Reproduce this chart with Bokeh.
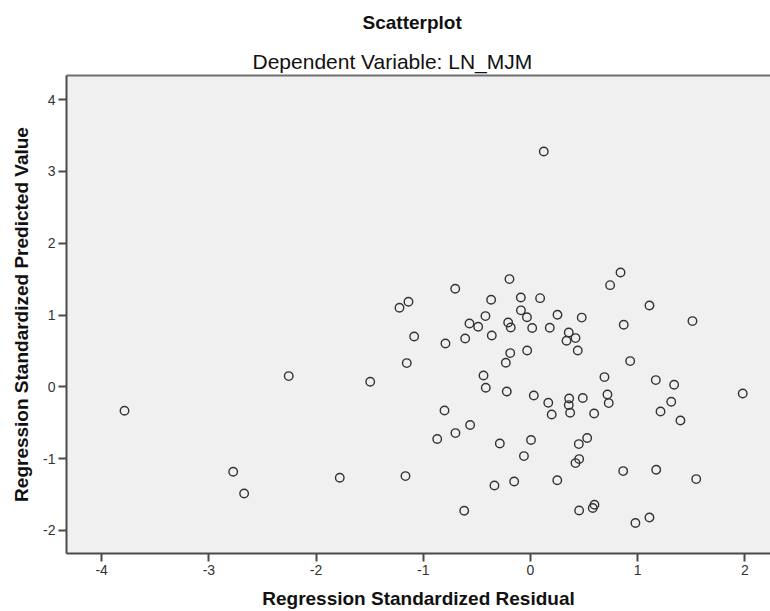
from bokeh.plotting import figure
from bokeh.models import Range1d, FixedTicker, LinearAxis, Title
from bokeh.embed import file_html
from bokeh.resources import INLINE

# Regression standardized residual (x) and standardized predicted value (y)
residual = [0.124, -0.196, -0.702, -1.138, -1.222, -0.367, -0.090, 0.090, -0.089, -0.033,
            -0.420, 0.252, 0.840, 0.743, 1.110, 0.478, -0.569, -0.488, -0.208, -0.184,
            0.016, 0.180, -1.085, -0.793, -0.609, -0.361, -0.189, -0.031, -0.230, -1.154,
            -1.495, -0.438, -0.417, -0.221, 0.031, 0.166, 0.198, -0.802, -0.563, -0.700,
            -0.870, -0.286, 0.005, -0.061, -1.779, -1.166, -0.336, -0.152, 0.250, -0.618,
            0.357, 0.336, 0.420, 0.441, 0.870, 1.511, 0.930, 0.690, 1.169, 1.340,
            1.980, 0.361, 0.357, 0.370, 0.488, 0.594, 0.718, 0.730, 1.313, 1.213,
            1.399, 0.529, 0.451, 0.454, 0.420, 0.865, 1.173, 1.546, 0.454, 0.581,
            0.597, 0.979, 1.110, -3.787, -2.255, -2.773, -2.671]
predicted = [3.277, 1.500, 1.365, 1.184, 1.100, 1.212, 1.244, 1.235, 1.065, 0.968,
             0.985, 1.003, 1.592, 1.416, 1.132, 0.964, 0.882, 0.836, 0.896, 0.826,
             0.818, 0.822, 0.701, 0.603, 0.673, 0.714, 0.469, 0.506, 0.334, 0.330,
             0.070, 0.157, -0.014, -0.065, -0.121, -0.223, -0.386, -0.330, -0.533, -0.645,
             -0.728, -0.790, -0.741, -0.965, -1.267, -1.244, -1.375, -1.319, -1.302, -1.727,
             0.756, 0.641, 0.678, 0.506, 0.864, 0.915, 0.358, 0.135, 0.093, 0.028,
             -0.093, -0.163, -0.255, -0.362, -0.157, -0.372, -0.107, -0.227, -0.209, -0.344,
             -0.469, -0.714, -0.798, -1.007, -1.063, -1.174, -1.156, -1.286, -1.723, -1.689,
             -1.643, -1.898, -1.820, -0.334, 0.149, -1.184, -1.486]

x_ticks = [-4, -3, -2, -1, 0, 1, 2]
x_tick_labels = ["-4", "-3", "-2", "-1", "0", "1", "2"]
y_ticks = [-2, -1, 0, 1, 2, 3, 4]
y_tick_labels = ["-2", "-1", "0", "1", "2", "3", "4"]

title_text = "Scatterplot"
subtitle_text = "Dependent Variable: LN_MJM"
x_label = "Regression Standardized Residual"
y_label = "Regression Standardized Predicted Value"

FONT = "Liberation Sans"
AX = "#4a4a4a"

p = figure(frame_width=704, frame_height=478,
           min_border_left=66, min_border_top=75, min_border_right=0, min_border_bottom=58,
           output_backend="svg", toolbar_location=None,
           x_range=Range1d(-4.328, 2.239), y_range=Range1d(-2.322, 4.336))
p.background_fill_color = "#f0f0f0"
p.border_fill_color = "white"
p.outline_line_color = None
p.grid.visible = False

p.scatter(residual, predicted, size=8.5, fill_color=None, line_color="#333333", line_width=1.4)

for ax, ticks, labels in ((p.xaxis[0], x_ticks, x_tick_labels), (p.yaxis[0], y_ticks, y_tick_labels)):
    ax.ticker = FixedTicker(ticks=ticks)
    ax.major_label_overrides = {t: l for t, l in zip(ticks, labels)}
    ax.minor_tick_line_color = None
    ax.major_tick_in = 0
    ax.major_tick_out = 8
    ax.major_tick_line_color = AX
    ax.major_tick_line_width = 2
    ax.axis_line_color = AX
    ax.axis_line_width = 2
    ax.major_label_text_font = FONT
    ax.major_label_text_font_size = "14px"
    ax.major_label_text_color = "#333333"
    ax.major_label_standoff = 3
    ax.axis_label_text_font = FONT
    ax.axis_label_text_font_style = "bold"
    ax.axis_label_text_font_size = "19px"
    ax.axis_label_text_color = "#111111"

p.xaxis.axis_label = x_label
p.yaxis.axis_label = y_label
p.xaxis.axis_label_standoff = 10
p.yaxis.axis_label_standoff = 8

# top border of the frame
top = LinearAxis(ticker=FixedTicker(ticks=[]), axis_line_color="#707070", axis_line_width=2,
                 major_tick_line_color=None, minor_tick_line_color=None,
                 major_label_text_font_size="0px")
p.add_layout(top, "above")

sub = Title(text=subtitle_text, align="left", offset=186, text_font=FONT,
            text_font_style="normal", text_font_size="21px", text_color="#111111", standoff=6)
p.add_layout(sub, "above")

p.title.text = title_text
p.title.align = "left"
p.title.offset = 296
p.title.vertical_align = "top"
p.title.text_font = FONT
p.title.text_font_style = "bold"
p.title.text_font_size = "19px"
p.title.text_color = "#111111"
p.title.standoff = 20

open("out.html", "w").write(file_html(p, INLINE))
